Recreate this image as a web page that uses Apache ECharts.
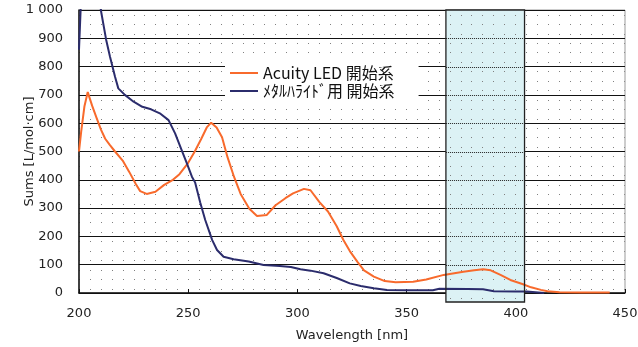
<!DOCTYPE html>
<html>
<head>
<meta charset="utf-8">
<script src="https://cdn.jsdelivr.net/npm/echarts@6/dist/echarts.min.js"></script>
<style>
html,body{margin:0;padding:0;background:#fff;}
#c{width:638px;height:347px;}
</style>
</head>
<body>
<div id="c"></div>
<script>
// ---- data ----
const xTicks = [200, 250, 300, 350, 400, 450];
const yTicks = [0, 100, 200, 300, 400, 500, 600, 700, 800, 900, 1000];
const seriesNames = ['Acuity LED 開始系', 'ﾒﾀﾙﾊﾗｲﾄﾞ用 開始系'];

const ledWl = [200, 201, 202.5, 204, 206, 208, 210, 212, 214, 216.5, 220, 223, 226, 228, 231, 235, 239, 243, 246, 250, 253, 256, 258.5, 260.5, 263, 265.5, 268, 271, 274, 278, 281.5, 286, 290, 294.5, 298, 303, 306, 310, 314, 318, 321, 324, 327.5, 330.5, 335, 340, 345, 353, 359, 367, 376, 381, 385, 388.5, 393, 397.5, 403, 407, 411.5, 414.5, 420, 430, 443];
const ledVal = [500, 570, 660, 710, 662, 620, 578, 545, 524, 500, 468, 428, 385, 360, 350, 358, 382, 400, 420, 460, 500, 545, 585, 602, 585, 550, 480, 410, 350, 298, 272, 276, 310, 335, 352, 368, 363, 322, 288, 236, 188, 148, 110, 80, 58, 42, 38, 40, 48, 64, 75, 80, 84, 80, 64, 46, 32, 20, 11, 6, 3, 2, 2];

const mhWl = [200, 201, 205, 209, 210, 212.4, 214.2, 216.5, 218, 221, 225, 229, 233, 237, 241, 244, 247, 249.4, 251.7, 253.2, 255.5, 257.8, 261, 263.2, 266.2, 270.8, 277.7, 284.5, 292, 297, 301.4, 306, 312, 318, 324, 329, 335, 341, 350, 362, 365, 378, 385, 390, 400, 405, 413];
const mhVal = [860, 1050, 1300, 1080, 1000, 896, 835, 764, 723, 700, 676, 658, 649, 635, 611, 564, 505, 458, 411, 390, 320, 258, 187, 152, 128, 119, 111, 99, 95, 92, 84, 79, 70, 53, 34, 25, 17, 11, 10, 10, 15, 14, 13, 6, 5, 5, 0];

const bandRange = [368, 404];

// ---- helpers ----
function zip(a, b) { return a.map((v, i) => [v, b[i]]); }

function dotTile(bg) {
  const cv = document.createElement('canvas');
  cv.width = 109; cv.height = 85;
  const ctx = cv.getContext('2d');
  ctx.fillStyle = bg;
  ctx.fillRect(0, 0, cv.width, cv.height);
  ctx.fillStyle = '#808080';
  for (let i = 0; i < 10; i++) {
    for (let j = 0; j < 9; j++) {
      ctx.fillRect(Math.round(i * 10.9), Math.round(4.7 + j * 9.43), 1, 1);
    }
  }
  return cv;
}

const font = '"DejaVu Sans", "Noto Sans CJK JP", sans-serif';
const chart = echarts.init(document.getElementById('c'), null, { renderer: 'canvas' });

const option = {
  animation: false,
  backgroundColor: '#fff',
  grid: {
    left: 79, right: 13, top: 10, bottom: 54,
    containLabel: false,
    outerBoundsMode: 'none',
    show: true,
    borderColor: '#9a9a9a',
    borderWidth: 1,
    backgroundColor: { image: dotTile('#ffffff'), repeat: 'repeat', x: 79, y: 10 }
  },
  legend: {
    left: 225, top: 61,
    orient: 'vertical',
    backgroundColor: '#ffffff',
    padding: [4, 24, 5, 5],
    itemWidth: 28, itemHeight: 2, itemGap: 2,
    icon: 'rect',
    textStyle: { fontFamily: '"Noto Sans CJK JP", sans-serif', fontSize: 16, color: '#111' },
    data: seriesNames
  },
  xAxis: {
    type: 'value',
    min: xTicks[0], max: xTicks[xTicks.length - 1], interval: 50,
    name: 'Wavelength [nm]',
    nameLocation: 'middle', nameGap: 36,
    nameTextStyle: { fontFamily: font, fontSize: 13, color: '#222' },
    axisLine: { lineStyle: { color: '#111', width: 1.5 } },
    axisTick: { show: true, inside: true, length: 4, lineStyle: { color: '#111' } },
    axisLabel: { margin: 14, fontFamily: font, fontSize: 13, color: '#222' },
    splitLine: { show: false }
  },
  yAxis: {
    type: 'value',
    min: yTicks[0], max: yTicks[yTicks.length - 1], interval: 100,
    name: 'Sums [L/mol·cm]',
    nameLocation: 'middle', nameGap: 49, nameMoveOverlap: false,
    nameTextStyle: { fontFamily: font, fontSize: 13, color: '#222', verticalAlign: 'middle' },
    axisLine: { show: true, lineStyle: { color: '#111', width: 1.5 } },
    axisTick: { show: false },
    axisLabel: {
      margin: 16, fontFamily: font, fontSize: 13, color: '#222',
      formatter: v => v === 1000 ? '1 000' : String(v)
    },
    splitLine: { show: true, lineStyle: { color: '#111', width: 1 } }
  },
  series: [
    {
      name: seriesNames[0], type: 'line', data: zip(ledWl, ledVal),
      showSymbol: false, symbol: 'none', clip: true,
      lineStyle: { color: '#f86a2c', width: 2 },
      itemStyle: { color: '#f86a2c' }, z: 3
    },
    {
      name: seriesNames[1], type: 'line', data: zip(mhWl, mhVal),
      showSymbol: false, symbol: 'none', clip: true,
      lineStyle: { color: '#2b2c6c', width: 2 },
      itemStyle: { color: '#2b2c6c' }, z: 3
    }
  ]
};
chart.setOption(option);

// highlight band (decoration), placed via the chart's own scales
const p1 = chart.convertToPixel({ gridIndex: 0 }, [bandRange[0], yTicks[yTicks.length - 1]]);
const p2 = chart.convertToPixel({ gridIndex: 0 }, [bandRange[1], yTicks[0]]);
const bx = p1[0], by = p1[1], bw = p2[0] - p1[0], bh = p2[1] - p1[1] + 9;
const els = [{
  type: 'rect', z: 1,
  shape: { x: bx, y: by, width: bw, height: bh },
  style: { fill: { image: dotTile('#dcf2f5'), repeat: 'repeat', x: 79, y: 10 }, stroke: null }
}];
yTicks.slice(1, -1).forEach(v => {
  const py = Math.round(chart.convertToPixel({ gridIndex: 0 }, [bandRange[0], v])[1]) + 0.5;
  els.push({
    type: 'line', z: 1,
    shape: { x1: bx, y1: py, x2: bx + bw, y2: py },
    style: { stroke: '#222', lineWidth: 1, lineDash: [1, 1] }
  });
});
els.push({
  type: 'rect', z: 4,
  shape: { x: bx, y: by, width: bw, height: bh },
  style: { fill: null, stroke: '#222', lineWidth: 1.3 }
});
chart.setOption({ graphic: els });
</script>
</body>
</html>
